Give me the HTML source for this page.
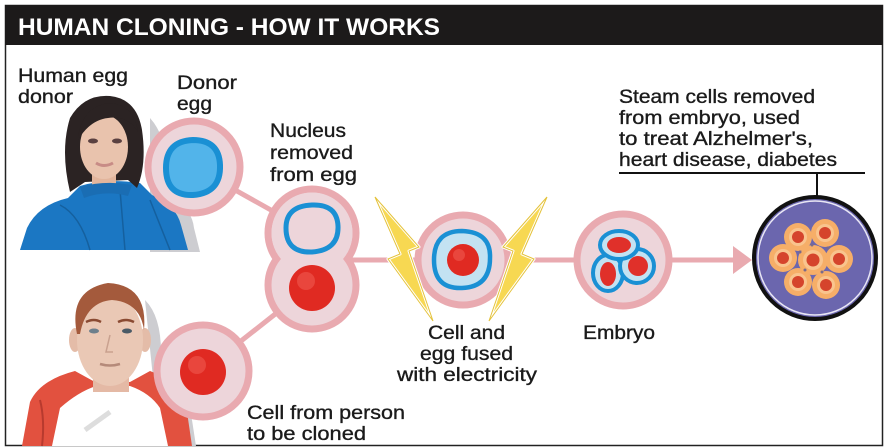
<!DOCTYPE html>
<html>
<head>
<meta charset="utf-8">
<style>
html,body{margin:0;padding:0;background:#fff;}
svg{display:block;}
text{font-family:"Liberation Sans","DejaVu Sans",sans-serif;}
</style>
</head>
<body>
<svg width="888" height="448" viewBox="0 0 888 448" xmlns="http://www.w3.org/2000/svg">
<rect x="0" y="0" width="888" height="448" fill="#fff"/>
<!-- frame -->
<rect x="5.5" y="5.5" width="877" height="440" fill="#fff" stroke="#222" stroke-width="1.5"/>
<rect x="5" y="5" width="878" height="40" fill="#1c1a1a"/>
<text x="18" y="35" font-size="24" font-weight="bold" fill="#fff" textLength="422" lengthAdjust="spacingAndGlyphs">HUMAN CLONING - HOW IT WORKS</text>

<!-- connectors -->
<g stroke="#e9aab0" stroke-width="5" fill="none">
<line x1="194" y1="167" x2="312" y2="233"/>
<line x1="203" y1="371" x2="312" y2="285"/>
<line x1="312" y1="260" x2="463" y2="260"/>
<line x1="463" y1="260" x2="623" y2="260"/>
<line x1="623" y1="260" x2="736" y2="260"/>
</g>
<polygon points="733,246 752,260 733,274" fill="#e9aab0"/>

<!-- woman -->
<g>
<path d="M150,118 Q170,140 165,185 L175,200 Q192,210 194,228 L200,252 L150,252 Z" fill="#cdcdd1"/>
<path d="M20,250 L27,228 Q38,205 68,198 L80,186 Q105,178 140,183 L152,195 Q176,205 181,225 L188,250 Z" fill="#1b77c3"/>
<path d="M60,205 Q80,215 90,250 M120,190 L125,250 M150,200 Q160,225 170,250" stroke="#15609e" stroke-width="1.5" fill="none"/>
<path d="M70,192 Q60,150 70,118 Q84,94 110,96 Q137,99 142,130 Q147,165 137,188 L128,180 L85,182 Z" fill="#2b2323"/>
<rect x="92" y="168" width="24" height="18" fill="#e2b59c"/>
<ellipse cx="104" cy="147" rx="24" ry="32" fill="#e9c3ad"/>
<path d="M78,138 Q82,106 110,103 Q134,105 138,132 Q128,115 108,118 Q90,120 78,140 Z" fill="#2b2323"/>
<ellipse cx="93" cy="141" rx="5" ry="2.5" fill="#5a4040"/>
<ellipse cx="117" cy="141" rx="5" ry="2.5" fill="#5a4040"/>
<path d="M96,163 Q104,168 113,163" stroke="#c88c86" stroke-width="3" fill="none"/>
<path d="M80,187 Q105,180 132,185 L128,196 Q105,190 84,198 Z" fill="#1a6db3"/>
</g>

<!-- man -->
<g>
<path d="M145,300 Q165,320 160,372 Q185,385 192,420 L196,446 L160,446 Z" fill="#cdcdd1"/>
<path d="M22,446 L30,402 Q40,380 75,371 L95,382 L130,382 L150,371 Q180,382 186,405 L192,446 Z" fill="#e2513f"/>
<path d="M52,446 L60,408 Q78,392 96,386 L130,386 Q150,393 160,408 L168,446 Z" fill="#fff"/>
<path d="M40,400 Q45,420 42,446" stroke="#b83a2e" stroke-width="2" fill="none"/>
<path d="M85,430 L110,412" stroke="#ddd" stroke-width="5"/>
<rect x="93" y="368" width="36" height="24" fill="#e4b9a5"/>
<ellipse cx="75" cy="340" rx="6" ry="12" fill="#e4bca8"/>
<ellipse cx="145" cy="340" rx="6" ry="12" fill="#e4bca8"/>
<ellipse cx="110" cy="340" rx="33" ry="46" fill="#eac8b5"/>
<path d="M77,334 Q68,290 108,283 Q148,285 144,330 Q140,302 112,300 Q86,302 80,334 Z" fill="#a45a3c"/>
<path d="M86,322 Q94,318 101,322 M118,322 Q126,318 134,322" stroke="#8a4a32" stroke-width="2.5" fill="none"/>
<ellipse cx="94" cy="331" rx="5" ry="2.5" fill="#6d7f8c"/>
<ellipse cx="127" cy="331" rx="5" ry="2.5" fill="#4a5a66"/>
<path d="M100,364 Q110,367 120,364" stroke="#b58a7a" stroke-width="2.5" fill="none"/>
<path d="M110,335 L106,352 L113,352" stroke="#c9a18f" stroke-width="1.5" fill="none"/>
</g>

<!-- donor egg -->
<circle cx="194" cy="167" r="46" fill="#edd5da" stroke="#e9aab0" stroke-width="7"/>
<path d="M193,140 Q219,140 220,165 Q221,193 193,195 Q166,196 166,168 Q166,141 193,140 Z" fill="#52b4ea" stroke="#1a90d4" stroke-width="6"/>

<!-- nucleus removed pair -->
<circle cx="312" cy="233" r="44" fill="#edd5da" stroke="#e9aab0" stroke-width="7"/>
<circle cx="312" cy="285" r="44" fill="#edd5da" stroke="#e9aab0" stroke-width="7"/>
<circle cx="312" cy="233" r="40.5" fill="#edd5da"/>
<path d="M312,205 Q337,204 338,226 Q339,250 312,252 Q286,253 286,228 Q286,206 312,205 Z" fill="none" stroke="#1a90d4" stroke-width="5"/>
<circle cx="312" cy="288" r="23" fill="#e02a22"/>
<circle cx="306" cy="281" r="9" fill="#ee5a50" opacity="0.6"/>

<!-- man's cell -->
<circle cx="203" cy="371" r="46" fill="#edd5da" stroke="#e9aab0" stroke-width="7"/>
<circle cx="203" cy="372" r="23" fill="#e02a22"/>
<circle cx="197" cy="365" r="9" fill="#ee5a50" opacity="0.6"/>

<!-- fused cell -->
<circle cx="463" cy="260" r="45" fill="#edd5da" stroke="#e9aab0" stroke-width="7"/>
<path d="M462,231 Q491,232 490,258 Q490,287 462,288 Q434,289 434,260 Q434,231 462,231 Z" fill="#c3e2f2" stroke="#1a90d4" stroke-width="4.5"/>
<circle cx="463" cy="260" r="16" fill="#e02a22"/>
<circle cx="459" cy="255" r="6" fill="#ee5a50" opacity="0.6"/>

<!-- lightning -->
<polygon points="375,197 419,247 409,251 433,321 388,259 400,254" fill="#f7d852" stroke="#fff" stroke-width="3" stroke-linejoin="round"/>
<polygon points="375,197 419,247 409,251 433,321 388,259 400,254" fill="none" stroke="#e4c23a" stroke-width="1"/>
<polygon points="547,197 503,247 513,251 489,321 534,259 522,254" fill="#f7d852" stroke="#fff" stroke-width="3" stroke-linejoin="round"/>
<polygon points="547,197 503,247 513,251 489,321 534,259 522,254" fill="none" stroke="#e4c23a" stroke-width="1"/>

<!-- embryo -->
<circle cx="623" cy="260" r="46" fill="#edd5da" stroke="#e9aab0" stroke-width="7"/>
<g fill="#c3e2f2" stroke="#1a90d4" stroke-width="4">
<ellipse cx="608" cy="273" rx="15" ry="18"/>
<ellipse cx="637" cy="266" rx="17" ry="17"/>
<ellipse cx="619" cy="245" rx="19" ry="14"/>
</g>
<g fill="#e0302a">
<ellipse cx="619" cy="245" rx="12" ry="8"/>
<ellipse cx="608" cy="274" rx="8" ry="12"/>
<ellipse cx="638" cy="266" rx="10" ry="10"/>
</g>

<!-- stem cell dish -->
<line x1="817" y1="173" x2="817" y2="197" stroke="#111" stroke-width="2"/>
<line x1="619" y1="173" x2="865" y2="173" stroke="#111" stroke-width="2"/>
<circle cx="815" cy="258" r="61" fill="#6b66ae" stroke="#111" stroke-width="4"/>
<circle cx="815" cy="258" r="57" fill="none" stroke="#e8e6f4" stroke-width="1.5"/>
<g fill="#f6ae68">
<circle cx="813" cy="260" r="15"/>
<circle cx="798" cy="237" r="14"/>
<circle cx="825" cy="233" r="14"/>
<circle cx="783" cy="258" r="14"/>
<circle cx="839" cy="259" r="14"/>
<circle cx="798" cy="282" r="14"/>
<circle cx="826" cy="285" r="14"/>
</g>
<g fill="#f9c48e">
<circle cx="813" cy="260" r="10"/>
<circle cx="798" cy="237" r="9"/>
<circle cx="825" cy="233" r="9"/>
<circle cx="783" cy="258" r="9"/>
<circle cx="839" cy="259" r="9"/>
<circle cx="798" cy="282" r="9"/>
<circle cx="826" cy="285" r="9"/>
</g>
<g fill="#d5442c">
<circle cx="813" cy="260" r="6.5"/>
<circle cx="798" cy="237" r="6"/>
<circle cx="825" cy="233" r="6"/>
<circle cx="783" cy="258" r="6"/>
<circle cx="839" cy="259" r="6"/>
<circle cx="798" cy="282" r="6"/>
<circle cx="826" cy="285" r="6"/>
</g>
<g fill="#7a6a8a">
<circle cx="800" cy="252" r="1.5"/><circle cx="828" cy="248" r="1.5"/><circle cx="812" cy="245" r="1.5"/>
<circle cx="805" cy="270" r="1.5"/><circle cx="822" cy="272" r="1.5"/>
</g>

<!-- labels -->
<g font-size="19.5" fill="#1a1a1a" stroke="#1a1a1a" stroke-width="0.35">
<text x="18" y="82" textLength="110" lengthAdjust="spacingAndGlyphs">Human egg</text>
<text x="18" y="103" textLength="55" lengthAdjust="spacingAndGlyphs">donor</text>
<text x="177" y="89" textLength="60" lengthAdjust="spacingAndGlyphs">Donor</text>
<text x="177" y="110" textLength="35" lengthAdjust="spacingAndGlyphs">egg</text>
<text x="270" y="137" textLength="76" lengthAdjust="spacingAndGlyphs">Nucleus</text>
<text x="270" y="159" textLength="83" lengthAdjust="spacingAndGlyphs">removed</text>
<text x="270" y="181" textLength="87" lengthAdjust="spacingAndGlyphs">from egg</text>
<text x="428" y="339" textLength="77" lengthAdjust="spacingAndGlyphs">Cell and</text>
<text x="420" y="360" textLength="93" lengthAdjust="spacingAndGlyphs">egg fused</text>
<text x="397" y="381" textLength="140" lengthAdjust="spacingAndGlyphs">with electricity</text>
<text x="583" y="339" textLength="72" lengthAdjust="spacingAndGlyphs">Embryo</text>
<text x="619" y="103" textLength="196" lengthAdjust="spacingAndGlyphs">Steam cells removed</text>
<text x="619" y="124" textLength="181" lengthAdjust="spacingAndGlyphs">from embryo, used</text>
<text x="619" y="145" textLength="194" lengthAdjust="spacingAndGlyphs">to treat Alzhelmer's,</text>
<text x="619" y="166" textLength="218" lengthAdjust="spacingAndGlyphs">heart disease, diabetes</text>
<text x="247" y="419" textLength="158" lengthAdjust="spacingAndGlyphs">Cell from person</text>
<text x="247" y="440" textLength="119" lengthAdjust="spacingAndGlyphs">to be cloned</text>
</g>
</svg>
</body>
</html>
